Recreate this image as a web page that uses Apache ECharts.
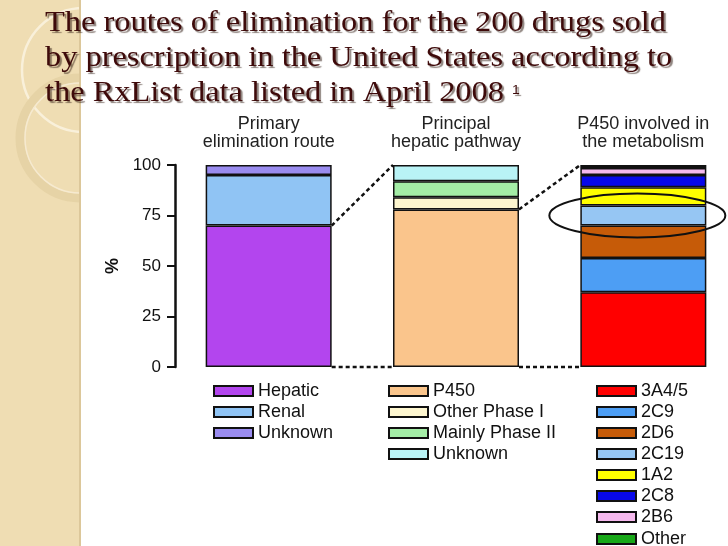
<!DOCTYPE html>
<html>
<head>
<meta charset="utf-8">
<script src="https://cdn.jsdelivr.net/npm/echarts@6/dist/echarts.min.js"></script>
<style>
  html, body { margin: 0; padding: 0; background: #fff; }
  #main { width: 728px; height: 546px; }
</style>
</head>
<body>
<div id="main"></div>
<script>
// panels (x categories)
var panels = ['Primary\nelimination route', 'Principal\nhepatic pathway', 'P450 involved in\nthe metabolism'];

// primary elimination route, %
var routeNames = ['Hepatic', 'Renal', 'Unknown'];
var routeValues = [70, 25, 5];

// principal hepatic pathway, %
var pathwayNames = ['P450', 'Other Phase I', 'Mainly Phase II', 'Unknown'];
var pathwayValues = [78, 6, 8, 8];

// P450 isoforms involved, %
var cypNames = ['3A4/5', '2C9', '2D6', '2C19', '1A2', '2C8', '2B6', 'Other'];
var cypValues = [37, 17, 16, 10, 9, 6, 3.5, 1.5];

var yTicks = [0, 25, 50, 75, 100];

var routeColors = ['#b345ee', '#90c4f4', '#9a8cf0'];
var pathwayColors = ['#fac58c', '#fdf6cf', '#a4eda6', '#b9f3f6'];
var cypColors = ['#ff0000', '#4d9ef4', '#c65b08', '#96c6f3', '#ffff00', '#0808ea', '#f6b9ee', '#18a818'];

var chart = echarts.init(document.getElementById('main'));
var BAR_W = 126;
var ROW = 21;        // legend row pitch
var LEG_TOP = 382;

// one series per segment, tagged with its panel so the two "Unknown" stay apart
function buildSeries(group, names, values, colors) {
  return names.map(function (n, i) {
    var d = ['-', '-', '-'];
    d[group] = values[i];
    return {
      name: group + '|' + n,
      type: 'bar',
      stack: 'all',
      barWidth: BAR_W,
      data: d,
      itemStyle: { color: colors[i], borderColor: '#111', borderWidth: 1.5 },
      emphasis: { disabled: true }
    };
  });
}

var series = []
  .concat(buildSeries(0, routeNames, routeValues, routeColors))
  .concat(buildSeries(1, pathwayNames, pathwayValues, pathwayColors))
  .concat(buildSeries(2, cypNames, cypValues, cypColors));

function legendFor(group, names, left, top) {
  return {
    orient: 'vertical',
    left: left,
    top: top,
    padding: 0,
    itemWidth: 39,
    itemHeight: 10,
    itemGap: ROW - 18,
    icon: 'rect',
    selectedMode: false,
    data: names.map(function (n) { return group + '|' + n; }),
    formatter: function (name) { return name.split('|')[1]; },
    itemStyle: { borderColor: '#111', borderWidth: 2 },
    textStyle: { fontFamily: 'Liberation Sans', fontSize: 18, color: '#111' }
  };
}

var option = {
  animation: false,
  grid: { left: 175, top: 165, width: 562, height: 202, outerBoundsMode: 'none', containLabel: false },
  xAxis: {
    type: 'category',
    position: 'top',
    data: panels,
    axisLine: { show: false },
    axisTick: { show: false },
    axisLabel: {
      margin: 14,
      fontFamily: 'Liberation Sans',
      fontSize: 18,
      lineHeight: 18,
      color: '#222'
    }
  },
  yAxis: {
    type: 'value',
    min: yTicks[0],
    max: yTicks[yTicks.length - 1],
    interval: 25,
    name: '%',
    nameLocation: 'middle',
    nameGap: 53,
    nameRotate: 90,
    nameTextStyle: { fontFamily: 'Liberation Sans', fontSize: 18, fontWeight: 'bold', color: '#111' },
    axisLine: { show: true, lineStyle: { color: '#111', width: 2.5 } },
    axisTick: { show: true, length: 8, lineStyle: { color: '#111', width: 2 } },
    axisLabel: { margin: 14, fontFamily: 'Liberation Sans', fontSize: 17, color: '#111' },
    splitLine: { show: false }
  },
  // last isoform row runs off the bottom edge as in the slide, so it gets its own legend
  legend: [
    legendFor(0, routeNames, 213, LEG_TOP),
    legendFor(1, pathwayNames, 388, LEG_TOP),
    legendFor(2, cypNames.slice(0, 7), 596, LEG_TOP),
    legendFor(2, cypNames.slice(7), 596, LEG_TOP + 7 * ROW + 1)
  ],
  graphic: [
    { id: 'strip', type: 'rect', z: -10, shape: { x: 0, y: 0, width: 80, height: 546 }, style: { fill: '#efddb3' } },
    { id: 'ring1', type: 'circle', z: -9, shape: { cx: 84, cy: 70, r: 62 }, style: { fill: 'none', stroke: '#f9f0da', lineWidth: 2.5 } },
    { id: 'ring2', type: 'circle', z: -9, shape: { cx: 80, cy: 138, r: 60 }, style: { fill: 'none', stroke: '#e6d3a6', lineWidth: 9 } },
    { id: 'ring2b', type: 'circle', z: -9, shape: { cx: 80, cy: 138, r: 55 }, style: { fill: 'none', stroke: '#f6ead0', lineWidth: 1.5 } },
    { id: 'white', type: 'rect', z: -8, shape: { x: 80, y: 0, width: 648, height: 546 }, style: { fill: '#ffffff' } },
    { id: 'edge', type: 'rect', z: -8, shape: { x: 79, y: 0, width: 2, height: 546 }, style: { fill: '#dcc79a' } },
    {
      id: 'heading', type: 'text', z: 10, x: 45, y: 6, scaleX: 1.08,
      style: {
        text: 'The routes of elimination for the 200 drugs sold\nby prescription in the United States according to\nthe RxList data listed in April 2008 {sup|1}',
        fontFamily: 'Liberation Serif',
        fontSize: 30,
        lineHeight: 35,
        fill: '#3e0a0a',
        textShadowColor: 'rgba(50,30,20,0.55)',
        textShadowOffsetX: 2,
        textShadowOffsetY: 2,
        textShadowBlur: 1,
        rich: {
          sup: { fontSize: 13, verticalAlign: 'top', padding: [8, 0, 0, 0], fill: '#3e0a0a' }
        }
      }
    }
  ],
  series: series
};

chart.setOption(option);

// dotted connectors and the highlight ellipse, placed through the axes
function px(idx, v) { return chart.convertToPixel({ xAxisIndex: 0, yAxisIndex: 0 }, [idx, v]); }
var half = BAR_W / 2;
var hepTop = px(0, routeValues[0]);
var p450Top = px(1, pathwayValues[0]);
var b1Top = px(1, 100), b1Bot = px(1, 0), b0Bot = px(0, 0);
var b2Top = px(2, 100), b2Bot = px(2, 0);
var below2C19 = cypValues[0] + cypValues[1] + cypValues[2];
var mid2C19 = px(2, below2C19 + cypValues[3] / 2);
var dash = { stroke: '#111', lineWidth: 2.5, lineDash: [4, 3], fill: 'none' };

chart.setOption({
  graphic: [
    { id: 'c1', type: 'line', z: 5, shape: { x1: hepTop[0] + half, y1: hepTop[1], x2: b1Top[0] - half, y2: b1Top[1] }, style: dash },
    { id: 'c2', type: 'line', z: 5, shape: { x1: b0Bot[0] + half, y1: b0Bot[1], x2: b1Bot[0] - half, y2: b1Bot[1] }, style: dash },
    { id: 'c3', type: 'line', z: 5, shape: { x1: p450Top[0] + half, y1: p450Top[1], x2: b2Top[0] - half, y2: b2Top[1] }, style: dash },
    { id: 'c4', type: 'line', z: 5, shape: { x1: b1Bot[0] + half, y1: b1Bot[1], x2: b2Bot[0] - half, y2: b2Bot[1] }, style: dash },
    { id: 'oval', type: 'ellipse', z: 6, shape: { cx: mid2C19[0] - 6, cy: mid2C19[1], rx: 88, ry: 22 }, style: { fill: 'none', stroke: '#111', lineWidth: 2 } }
  ]
});
</script>
</body>
</html>
